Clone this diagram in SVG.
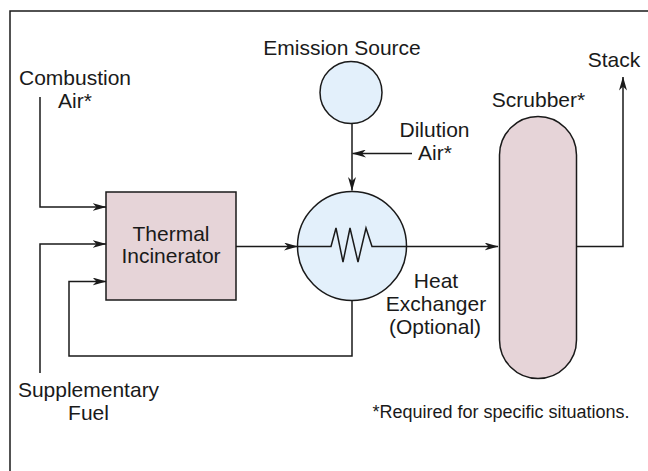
<svg xmlns="http://www.w3.org/2000/svg" width="648" height="471" viewBox="0 0 648 471">
<style>
  text { font-family: "Liberation Sans", Arial, sans-serif; font-size: 21px; fill: #1a1a1a; }
  .note { font-size: 18px; }
  .pink { fill: #e6d4d8; stroke: #1a1a1a; stroke-width: 1.5; }
  .blue { fill: #e3f0fb; stroke: #1a1a1a; stroke-width: 1.5; }
  .ln { fill: none; stroke: #1a1a1a; stroke-width: 1.5; }
</style>
<defs>
  <marker id="arr" viewBox="0 0 14 8" refX="13.5" refY="4" markerWidth="14" markerHeight="8" markerUnits="userSpaceOnUse" orient="auto">
    <path d="M0,0 L14,4 L0,8 L4,4 z" fill="#1a1a1a"/>
  </marker>
</defs>
<rect width="648" height="471" fill="#ffffff"/>
<path class="ln" d="M10,471 V11 H648" stroke-width="2"/>

<g id="thermal-incinerator">
  <rect class="pink" x="106" y="192" width="130" height="108"/>
  <text x="171" y="241" text-anchor="middle">Thermal</text>
  <text x="171" y="263" text-anchor="middle">Incinerator</text>
</g>

<g id="emission-source">
  <circle class="blue" cx="351" cy="92.5" r="31"/>
  <text x="342" y="55" text-anchor="middle">Emission Source</text>
</g>

<g id="heat-exchanger">
  <circle class="blue" cx="352" cy="246" r="54.5"/>
  <path class="ln" d="M297.5,246.5 H331 L336,228 L343,262 L350,228 L358,262 L366,228 L372,246.5 H406.5"/>
  <text x="436" y="288" text-anchor="middle">Heat</text>
  <text x="436" y="311" text-anchor="middle">Exchanger</text>
  <text x="435" y="334" text-anchor="middle">(Optional)</text>
</g>

<g id="scrubber">
  <rect class="pink" x="499.5" y="116.5" width="77" height="262" rx="38.5" ry="38.5"/>
  <text x="538.5" y="107" text-anchor="middle">Scrubber*</text>
</g>

<g id="labels">
  <text x="75" y="85" text-anchor="middle">Combustion</text>
  <text x="75" y="108" text-anchor="middle">Air*</text>
  <text x="88.5" y="397" text-anchor="middle">Supplementary</text>
  <text x="88.5" y="420" text-anchor="middle">Fuel</text>
  <text x="434.5" y="137" text-anchor="middle">Dilution</text>
  <text x="435" y="160" text-anchor="middle">Air*</text>
  <text x="614" y="67" text-anchor="middle">Stack</text>
  <text class="note" x="501" y="418" text-anchor="middle">*Required for specific situations.</text>
</g>

<g id="connectors">
  <path class="ln" d="M40,97 V207 H106" marker-end="url(#arr)"/>
  <path class="ln" d="M40,373 V244 H106" marker-end="url(#arr)"/>
  <path class="ln" d="M352,300.5 V356 H69 V281.5 H106" marker-end="url(#arr)"/>
  <path class="ln" d="M236,246.5 H297.5" marker-end="url(#arr)"/>
  <path class="ln" d="M406.5,246.5 H498" marker-end="url(#arr)"/>
  <path class="ln" d="M352,123.5 V190.5" marker-end="url(#arr)"/>
  <path class="ln" d="M412,153.5 H352.5" marker-end="url(#arr)"/>
  <path class="ln" d="M576.5,246.5 H623 V77" marker-end="url(#arr)"/>
</g>
</svg>
